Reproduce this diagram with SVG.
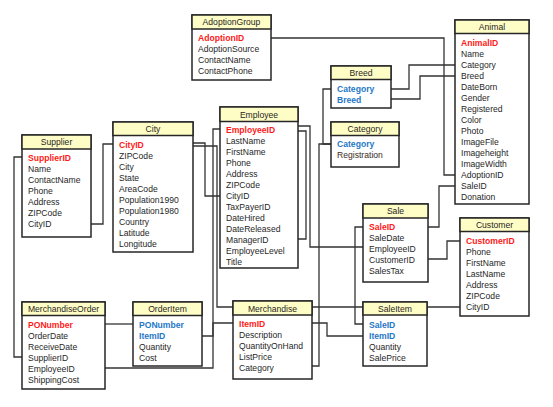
<svg xmlns="http://www.w3.org/2000/svg" width="553" height="407" viewBox="0 0 553 407">
<style>
.bg{fill:#ffffff}
.box{fill:#ffffff;stroke:#262626;stroke-width:1.5}
.hd{fill:#fffdc6;stroke:#262626;stroke-width:1.5}
text{font-family:"Liberation Sans",Arial,sans-serif;font-size:8.6px;fill:#1f1f1f}
.t{text-anchor:middle}
.pk{fill:#ff1a1a;font-weight:bold}
.fk{fill:#1f78c8;font-weight:bold}
.c{fill:none;stroke:#333333;stroke-width:1.3}
</style>
<rect class="bg" x="0" y="0" width="553" height="407"/>
<g id="connectors">
<path class="c" d="M271,38 H444 V175 H455"/>
<path class="c" d="M391,89 H409 V65 H455"/>
<path class="c" d="M391,99 H420 V76 H455"/>
<path class="c" d="M331,89 H323 V144 H331"/>
<path class="c" d="M331,144 H319 V366 H312"/>
<path class="c" d="M91,224 H103 V144 H113"/>
<path class="c" d="M22,157 H14 V357 H22"/>
<path class="c" d="M193,143 H205 V196 H220"/>
<path class="c" d="M193,146 H217 V307 H460"/>
<path class="c" d="M220,129 H213 V368 H105"/>
<path class="c" d="M202,336 H213 V323 H233"/>
<path class="c" d="M105,324 H133"/>
<path class="c" d="M298,131 H306 V239 H298"/>
<path class="c" d="M298,126 H310 V247 H363"/>
<path class="c" d="M428,227 H439 V186 H455"/>
<path class="c" d="M363,227 H355 V324 H363"/>
<path class="c" d="M428,259 H447 V241 H460"/>
<path class="c" d="M312,323 H327 V336 H363"/>
</g>
<g id="AdoptionGroup">
<rect class="box" x="192" y="15" width="79" height="65"/>
<rect class="hd" x="192" y="15" width="79" height="14"/>
<text class="t" x="231.5" y="25">AdoptionGroup</text>
<text class="pk" x="198" y="41">AdoptionID</text>
<text x="198" y="52">AdoptionSource</text>
<text x="198" y="63">ContactName</text>
<text x="198" y="74">ContactPhone</text>
</g>
<g id="Animal">
<rect class="box" x="455" y="20" width="74" height="184"/>
<rect class="hd" x="455" y="20" width="74" height="13.5"/>
<text class="t" x="492" y="30">Animal</text>
<text class="pk" x="461" y="46">AnimalID</text>
<text x="461" y="57">Name</text>
<text x="461" y="68">Category</text>
<text x="461" y="79">Breed</text>
<text x="461" y="90">DateBorn</text>
<text x="461" y="101">Gender</text>
<text x="461" y="112">Registered</text>
<text x="461" y="123">Color</text>
<text x="461" y="134">Photo</text>
<text x="461" y="145">ImageFile</text>
<text x="461" y="156">Imageheight</text>
<text x="461" y="167">ImageWidth</text>
<text x="461" y="178">AdoptionID</text>
<text x="461" y="189">SaleID</text>
<text x="461" y="200">Donation</text>
</g>
<g id="Breed">
<rect class="box" x="331" y="66" width="60" height="42"/>
<rect class="hd" x="331" y="66" width="60" height="13.5"/>
<text class="t" x="361" y="76">Breed</text>
<text class="fk" x="337" y="92">Category</text>
<text class="fk" x="337" y="103">Breed</text>
</g>
<g id="Category">
<rect class="box" x="331" y="122" width="68" height="45"/>
<rect class="hd" x="331" y="122" width="68" height="13.5"/>
<text class="t" x="365" y="132">Category</text>
<text class="fk" x="337" y="147">Category</text>
<text x="337" y="158" style="fill:#3a2a1c">Registration</text>
</g>
<g id="Supplier">
<rect class="box" x="22" y="135" width="69" height="102"/>
<rect class="hd" x="22" y="135" width="69" height="14"/>
<text class="t" x="56.5" y="145">Supplier</text>
<text class="pk" x="28" y="160.5">SupplierID</text>
<text x="28" y="171.5">Name</text>
<text x="28" y="182.5">ContactName</text>
<text x="28" y="193.5">Phone</text>
<text x="28" y="204.5">Address</text>
<text x="28" y="215.5">ZIPCode</text>
<text x="28" y="226.5">CityID</text>
</g>
<g id="City">
<rect class="box" x="113" y="122" width="80" height="130"/>
<rect class="hd" x="113" y="122" width="80" height="13.5"/>
<text class="t" x="153" y="132">City</text>
<text class="pk" x="119" y="147.5">CityID</text>
<text x="119" y="158.5">ZIPCode</text>
<text x="119" y="169.5">City</text>
<text x="119" y="180.5">State</text>
<text x="119" y="191.5">AreaCode</text>
<text x="119" y="202.5">Population1990</text>
<text x="119" y="213.5">Population1980</text>
<text x="119" y="224.5">Country</text>
<text x="119" y="235.5">Latitude</text>
<text x="119" y="246.5">Longitude</text>
</g>
<g id="Employee">
<rect class="box" x="220" y="107" width="78" height="161"/>
<rect class="hd" x="220" y="107" width="78" height="14.5"/>
<text class="t" x="259" y="117.5">Employee</text>
<text class="pk" x="226" y="133">EmployeeID</text>
<text x="226" y="144">LastName</text>
<text x="226" y="155">FirstName</text>
<text x="226" y="166">Phone</text>
<text x="226" y="177">Address</text>
<text x="226" y="188">ZIPCode</text>
<text x="226" y="199">CityID</text>
<text x="226" y="210">TaxPayerID</text>
<text x="226" y="221">DateHired</text>
<text x="226" y="232">DateReleased</text>
<text x="226" y="243">ManagerID</text>
<text x="226" y="254">EmployeeLevel</text>
<text x="226" y="265">Title</text>
</g>
<g id="Sale">
<rect class="box" x="363" y="204" width="65" height="78"/>
<rect class="hd" x="363" y="204" width="65" height="14"/>
<text class="t" x="395.5" y="214">Sale</text>
<text class="pk" x="369" y="230">SaleID</text>
<text x="369" y="241">SaleDate</text>
<text x="369" y="252">EmployeeID</text>
<text x="369" y="263">CustomerID</text>
<text x="369" y="274">SalesTax</text>
</g>
<g id="Customer">
<rect class="box" x="460" y="218" width="69" height="98"/>
<rect class="hd" x="460" y="218" width="69" height="13.5"/>
<text class="t" x="494.5" y="228">Customer</text>
<text class="pk" x="466" y="244">CustomerID</text>
<text x="466" y="255">Phone</text>
<text x="466" y="266">FirstName</text>
<text x="466" y="277">LastName</text>
<text x="466" y="288">Address</text>
<text x="466" y="299">ZIPCode</text>
<text x="466" y="310">CityID</text>
</g>
<g id="MerchandiseOrder">
<rect class="box" x="22" y="302" width="83" height="87"/>
<rect class="hd" x="22" y="302" width="83" height="13.5"/>
<text class="t" x="63.5" y="312">MerchandiseOrder</text>
<text class="pk" x="28" y="327.5">PONumber</text>
<text x="28" y="338.5">OrderDate</text>
<text x="28" y="349.5">ReceiveDate</text>
<text x="28" y="360.5">SupplierID</text>
<text x="28" y="371.5">EmployeeID</text>
<text x="28" y="382.5">ShippingCost</text>
</g>
<g id="OrderItem">
<rect class="box" x="133" y="302" width="69" height="64"/>
<rect class="hd" x="133" y="302" width="69" height="13.5"/>
<text class="t" x="167.5" y="312">OrderItem</text>
<text class="fk" x="139" y="327.5">PONumber</text>
<text class="fk" x="139" y="338.5">ItemID</text>
<text x="139" y="349.5">Quantity</text>
<text x="139" y="360.5">Cost</text>
</g>
<g id="Merchandise">
<rect class="box" x="233" y="301" width="79" height="78"/>
<rect class="hd" x="233" y="301" width="79" height="14"/>
<text class="t" x="272.5" y="311.5">Merchandise</text>
<text class="pk" x="239" y="326.5">ItemID</text>
<text x="239" y="337.5">Description</text>
<text x="239" y="348.5">QuantityOnHand</text>
<text x="239" y="359.5">ListPrice</text>
<text x="239" y="370.5">Category</text>
</g>
<g id="SaleItem">
<rect class="box" x="363" y="302" width="64" height="64"/>
<rect class="hd" x="363" y="302" width="64" height="13"/>
<text class="t" x="395" y="311.5">SaleItem</text>
<text class="fk" x="369" y="327.5">SaleID</text>
<text class="fk" x="369" y="338.5">ItemID</text>
<text x="369" y="349.5">Quantity</text>
<text x="369" y="360.5">SalePrice</text>
</g>
</svg>
